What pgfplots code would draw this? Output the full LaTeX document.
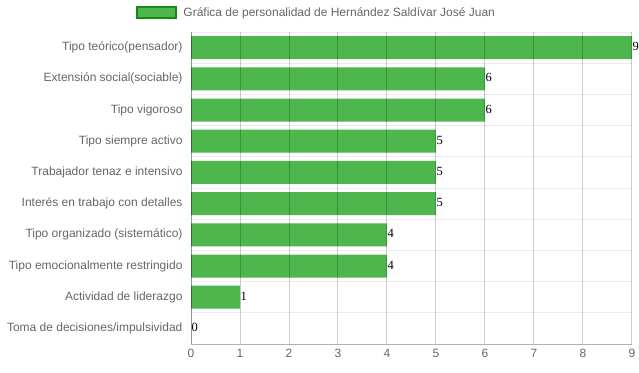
\documentclass[border=0pt]{standalone}
\usepackage{fontspec}
\setmainfont{Liberation Sans}
\newfontfamily\serifnum{Liberation Serif}
\usepackage{pgfplots}
\pgfplotsset{compat=1.18}
\definecolor{barc}{RGB}{77,182,77}
\definecolor{barb}{RGB}{20,140,20}
\definecolor{tickc}{RGB}{102,102,102}
\begin{document}
\begin{tikzpicture}[x=1pt,y=1pt]
\useasboundingbox (0,0) rectangle (639,372);
\begin{axis}[
  at={(191pt,28pt)}, anchor=south west,
  scale only axis, width=441pt, height=312pt,
  xbar, bar width=23pt,
  xmin=0, xmax=9, ymin=-0.5, ymax=9.5, y dir=reverse,
  xtick={0,...,9}, ytick={0,...,9},
  minor ytick={-0.5,0.5,...,9.5},
  yticklabels={Tipo teórico(pensador),Extensión social(sociable),Tipo vigoroso,Tipo siempre activo,Trabajador tenaz e intensivo,Interés en trabajo con detalles,Tipo organizado (sistemático),Tipo emocionalmente restringido,Actividad de liderazgo,Toma de decisiones/impulsividad},
  major tick length=0pt, minor tick length=0pt,
  xmajorgrids, yminorgrids,
  major grid style={black, opacity=0.2, line width=1pt},
  minor grid style={black, opacity=0.07, line width=1pt},
  axis line style={draw=none},
  axis on top,
  /pgf/number format/assume math mode=true,
  tick label style={font=\fontsize{12}{14}\selectfont, text=tickc},
  yticklabel style={xshift=-5pt},
  xticklabel style={yshift=-2pt},
  nodes near coords,
  nodes near coords style={font=\serifnum\fontsize{12.5}{14}\selectfont, text=black, anchor=west, inner sep=0.5pt, yshift=1pt},
  legend style={at={(0.285,1.061)}, anchor=center, draw=none, fill=none, font=\fontsize{12}{14}\selectfont, text=tickc, inner sep=0pt,
    /tikz/every odd column/.style={column sep=4pt}},
  legend image code/.code={\draw[line width=2pt, draw=barb, fill=barc] (0pt,-5pt) rectangle (39pt,6pt);},
]
\addplot[fill=barc, draw=none] coordinates {(9,0) (6,1) (6,2) (5,3) (5,4) (5,5) (4,6) (4,7) (1,8) (0,9)};
\addlegendentry{Gráfica de personalidad de Hernández Saldívar José Juan}
\draw[black, opacity=0.25, line width=1pt] (axis cs:0,-0.5) -- (axis cs:0,9.5) -- (axis cs:9,9.5);
\end{axis}
\end{tikzpicture}
\end{document}
